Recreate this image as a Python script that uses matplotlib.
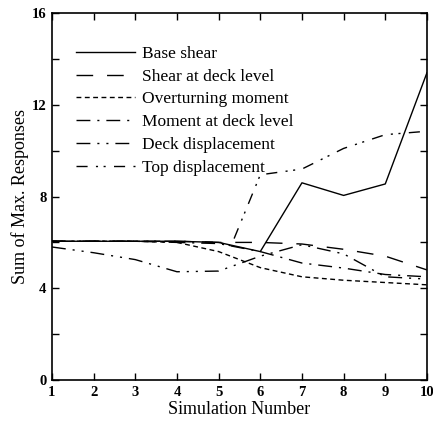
import matplotlib
matplotlib.use("Agg")
import matplotlib.pyplot as plt
import matplotlib.ticker as mticker

plt.rcParams["font.family"] = ["Liberation Serif", "DejaVu Serif"]

# simulation numbers
sims = [1, 2, 3, 4, 5, 6, 7, 8, 9, 10]

base_shear = [6.05, 6.05, 6.05, 6.05, 6.0, 5.6, 8.6, 8.05, 8.55, 13.4]
shear_deck = [6.05, 6.05, 6.05, 6.05, 6.0, 6.0, 5.93, 5.7, 5.4, 4.8]
overturning = [6.05, 6.05, 6.05, 6.0, 5.6, 4.9, 4.5, 4.35, 4.25, 4.15]
moment_deck = [6.05, 6.05, 6.05, 6.0, 5.95, 5.6, 5.1, 4.88, 4.6, 4.5]
deck_disp = [5.8, 5.55, 5.25, 4.72, 4.75, 5.4, 5.9, 5.5, 4.5, 4.4]
top_sims = [1, 2, 3, 4, 5, 5.3, 6, 7, 8, 9, 10]
top_disp = [6.05, 6.05, 6.05, 6.05, 6.0, 5.85, 8.95, 9.2, 10.1, 10.7, 10.85]

fig = plt.figure(figsize=(4.33, 4.25), dpi=100)
ax = fig.add_axes([0.12, 0.106, 0.866, 0.863])

lw = 1.0
ax.plot(sims, base_shear, color="black", lw=lw, label="Base shear")
ax.plot(sims, shear_deck, color="black", lw=lw, dashes=(12, 10), label="Shear at deck level")
ax.plot(sims, overturning, color="black", lw=lw, dashes=(3.5, 2.5), label="Overturning moment")
ax.plot(sims, moment_deck, color="black", lw=lw, dashes=(10, 5, 1.5, 5), label="Moment at deck level")
ax.plot(sims, deck_disp, color="black", lw=lw, dashes=(10, 5, 1.5, 5, 1.5, 5), label="Deck displacement")
ax.plot(top_sims, top_disp, color="black", lw=lw, dashes=(8, 6, 1.5, 4, 1.5, 6), label="Top displacement")

ax.set_xlim(1, 10)
ax.set_ylim(0, 16)
ax.xaxis.set_major_locator(mticker.MultipleLocator(1))
ax.yaxis.set_major_locator(mticker.MultipleLocator(4))
ax.yaxis.set_minor_locator(mticker.MultipleLocator(2))
ax.tick_params(which="both", direction="in", top=True, right=True, length=5, width=1)
for lab in ax.get_xticklabels() + ax.get_yticklabels():
    lab.set_fontweight("bold")
    lab.set_fontsize(10.5)
ax.tick_params(axis="x", pad=4)
ax.tick_params(axis="y", pad=4)
for s in ax.spines.values():
    s.set_linewidth(1.2)

ax.set_xlabel("Simulation Number", fontsize=13, labelpad=2)
ax.set_ylabel("Sum of Max. Responses", fontsize=13, labelpad=2)

ax.legend(loc="upper left", bbox_to_anchor=(0.045, 0.93), frameon=False, fontsize=12.5,
          handlelength=3.4, handletextpad=0.4, labelspacing=0.38, borderaxespad=0)

fig.savefig("out.png", dpi=100)
